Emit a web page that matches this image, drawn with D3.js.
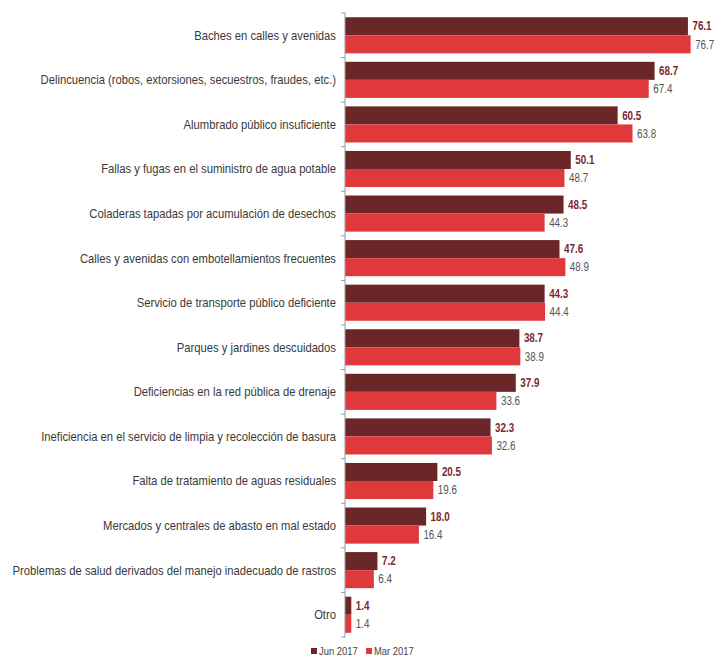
<!DOCTYPE html>
<html>
<head>
<meta charset="utf-8">
<script src="https://cdn.jsdelivr.net/npm/d3@7"></script>
<style>
  body { margin: 0; background: #fff; }
  text { font-family: "Liberation Sans", Arial, sans-serif; }
</style>
</head>
<body>
<div id="chart"></div>
<script>
const svgWidth = 717;
const svgHeight = 658;

const categories = [
  'Baches en calles y avenidas',
  'Delincuencia (robos, extorsiones, secuestros, fraudes, etc.)',
  'Alumbrado público insuficiente',
  'Fallas y fugas en el suministro de agua potable',
  'Coladeras tapadas por acumulación de desechos',
  'Calles y avenidas con embotellamientos frecuentes',
  'Servicio de transporte público deficiente',
  'Parques y jardines descuidados',
  'Deficiencias en la red pública de drenaje',
  'Ineficiencia en el servicio de limpia y recolección de basura',
  'Falta de tratamiento de aguas residuales',
  'Mercados y centrales de abasto en mal estado',
  'Problemas de salud derivados del manejo inadecuado de rastros',
  'Otro',
];
const jun2017 = [76.1, 68.7, 60.5, 50.1, 48.5, 47.6, 44.3, 38.7, 37.9, 32.3, 20.5, 18.0, 7.2, 1.4];
const mar2017 = [76.7, 67.4, 63.8, 48.7, 44.3, 48.9, 44.4, 38.9, 33.6, 32.6, 19.6, 16.4, 6.4, 1.4];
const seriesNames = ['Jun 2017', 'Mar 2017'];
const seriesColors = ['#6b2628', '#e0393b'];

const series = [jun2017, mar2017];
const rows = categories.map((c, i) => ({ cat: c, vals: series.map((s) => s[i]) }));

// the original uses a narrow font; squeeze text horizontally to match
const NARROW = 0.82;

const svg = d3.select('#chart').append('svg').attr('width', svgWidth).attr('height', svgHeight);

const x = d3.scaleLinear().domain([0, 80]).range([345, 705.5]);
const y = d3.scaleBand().domain(categories).range([13, 637]).paddingInner(0.19).paddingOuter(0.095);
const y1 = d3.scaleBand().domain(seriesNames).range([0, y.bandwidth()]);

// category labels
const catLabels = svg
  .append('g')
  .selectAll('text')
  .data(categories)
  .join('text')
  .attr('x', 0)
  .attr('y', 0)
  .attr('dy', '0.35em')
  .attr('text-anchor', 'end')
  .style('font-size', '12.5px')
  .attr('fill', '#3a3a3a')
  .text((d) => d);

// fit the longest label into the space the original gives it
const longest = d3.max(catLabels.nodes(), (n) => n.getComputedTextLength());
const sx = 324 / longest;
catLabels.attr('transform', (d) => `translate(336, ${y(d) + y.bandwidth() / 2}) scale(${sx}, 1)`);

const groups = svg
  .append('g')
  .selectAll('g')
  .data(rows)
  .join('g')
  .attr('transform', (d) => `translate(0, ${y(d.cat)})`);

groups
  .selectAll('rect')
  .data((d) => d.vals.map((v, k) => ({ v, k })))
  .join('rect')
  .attr('x', x(0))
  .attr('y', (d) => y1(seriesNames[d.k]))
  .attr('width', (d) => x(d.v) - x(0))
  .attr('height', y1.bandwidth())
  .attr('fill', (d) => seriesColors[d.k]);

groups
  .selectAll('text')
  .data((d) => d.vals.map((v, k) => ({ v, k })))
  .join('text')
  .attr('transform', (d) => `translate(${x(d.v) + 4.5}, ${y1(seriesNames[d.k]) + y1.bandwidth() / 2}) scale(${NARROW}, 1)`)
  .attr('dy', '0.35em')
  .style('font-size', '12px')
  .style('font-weight', (d) => (d.k === 0 ? 'bold' : 'normal'))
  .attr('fill', (d) => (d.k === 0 ? '#7a2a2e' : '#555'))
  .text((d) => d.v.toFixed(1));

// axis line with ticks on category boundaries
const axis = svg.append('g');
axis
  .append('line')
  .attr('x1', x(0))
  .attr('x2', x(0))
  .attr('y1', 13)
  .attr('y2', 637)
  .attr('stroke', '#999')
  .attr('stroke-width', 1);
const boundaries = d3.range(categories.length + 1).map((i) => 13 + i * y.step());
axis
  .selectAll('line.tick')
  .data(boundaries)
  .join('line')
  .attr('class', 'tick')
  .attr('x1', x(0) - 4)
  .attr('x2', x(0))
  .attr('y1', (d) => d)
  .attr('y2', (d) => d)
  .attr('stroke', '#999');

// legend
const legend = svg.append('g').attr('transform', 'translate(311, 651)');
const items = legend
  .selectAll('g')
  .data(seriesNames)
  .join('g')
  .attr('transform', (d, i) => `translate(${i * 55}, 0)`);
items
  .append('rect')
  .attr('x', 0)
  .attr('y', -3)
  .attr('width', 6)
  .attr('height', 6)
  .attr('fill', (d, i) => seriesColors[i]);
items
  .append('text')
  .attr('transform', `translate(8, 0) scale(${NARROW}, 1)`)
  .attr('dy', '0.35em')
  .style('font-size', '11.5px')
  .attr('fill', '#444')
  .text((d) => d);
</script>
</body>
</html>
